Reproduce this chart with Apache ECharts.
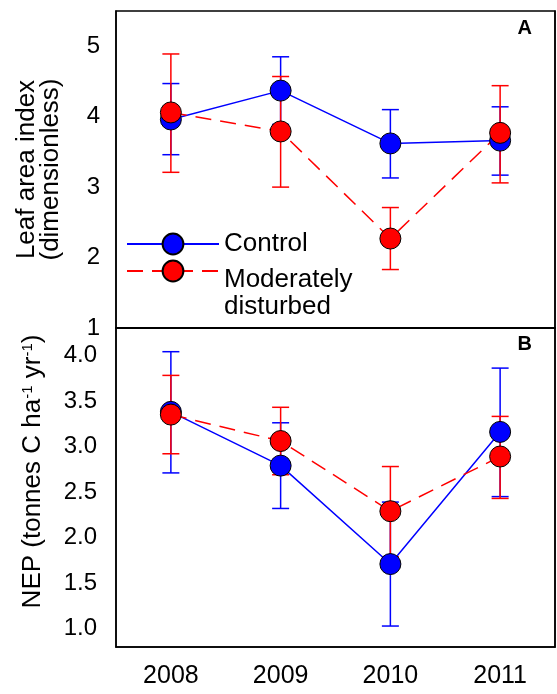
<!DOCTYPE html>
<html>
<head>
<meta charset="utf-8">
<script src="https://cdn.jsdelivr.net/npm/echarts@6/dist/echarts.min.js"></script>
<style>
  html, body { margin: 0; padding: 0; background: #fff; }
  #chart { width: 557px; height: 694px; }
</style>
</head>
<body>
<div id="chart"></div>
<script>
// years on the x axis
const years = ['2008', '2009', '2010', '2011'];

// panel A: leaf area index
const laiControl = [3.96, 4.37, 3.62, 3.66];
const laiControlLow = [3.46, 3.89, 3.13, 3.17];
const laiControlHigh = [4.47, 4.85, 4.10, 4.14];
const laiDisturbed = [4.06, 3.79, 2.27, 3.77];
const laiDisturbedLow = [3.21, 3.00, 1.83, 3.06];
const laiDisturbedHigh = [4.89, 4.57, 2.71, 4.44];

// panel B: NEP
const nepControl = [3.38, 2.79, 1.71, 3.16];
const nepControlLow = [2.71, 2.32, 1.03, 2.45];
const nepControlHigh = [4.04, 3.26, 2.39, 3.86];
const nepDisturbed = [3.35, 3.06, 2.29, 2.89];
const nepDisturbedLow = [2.92, 2.69, 1.79, 2.43];
const nepDisturbedHigh = [3.78, 3.43, 2.78, 3.33];

// tick values
const laiTicks = [1, 2, 3, 4, 5];
const nepTicks = [1.0, 1.5, 2.0, 2.5, 3.0, 3.5, 4.0];

const BLUE = '#0000ff';
const RED = '#ff0000';
const FONT = 'Liberation Sans, Arial, sans-serif';

const chart = echarts.init(document.getElementById('chart'));

// error bars drawn through the axes' own coordinate system
function errorBars(name, color, low, high, gridIdx) {
  return {
    name: name + ' error',
    type: 'custom',
    xAxisIndex: gridIdx === 0 ? 0 : 2,
    yAxisIndex: gridIdx === 0 ? 0 : 2,
    z: 1,
    silent: true,
    data: years.map((y, i) => [i, low[i], high[i]]),
    renderItem: function (params, api) {
      const lo = api.coord([api.value(0), api.value(1)]);
      const hi = api.coord([api.value(0), api.value(2)]);
      const half = 8.5;
      const st = { stroke: color, lineWidth: 1.5 };
      return {
        type: 'group',
        children: [
          { type: 'line', shape: { x1: lo[0], y1: lo[1], x2: hi[0], y2: hi[1] }, style: st },
          { type: 'line', shape: { x1: lo[0] - half, y1: lo[1], x2: lo[0] + half, y2: lo[1] }, style: st },
          { type: 'line', shape: { x1: hi[0] - half, y1: hi[1], x2: hi[0] + half, y2: hi[1] }, style: st }
        ]
      };
    }
  };
}

function lineSeries(name, color, values, dashed, gridIdx) {
  return {
    name: name,
    type: 'line',
    xAxisIndex: gridIdx === 0 ? 0 : 2,
    yAxisIndex: gridIdx === 0 ? 0 : 2,
    z: 3,
    data: values,
    symbol: 'circle',
    symbolSize: 21,
    lineStyle: { color: color, width: 1.5, type: dashed ? [16, 9] : 'solid' },
    itemStyle: { color: color, borderColor: '#000', borderWidth: 1 },
    emphasis: { disabled: true }
  };
}

const xBase = {
  type: 'category',
  data: years,
  boundaryGap: true,
  axisLine: { lineStyle: { color: '#000', width: 1.5 } },
  splitLine: { show: false }
};

const option = {
  animation: false,
  textStyle: { fontFamily: FONT },
  title: [
    { text: 'A', right: 25, top: 18, padding: 0,
      textStyle: { fontSize: 20, fontWeight: 'bold', color: '#000', fontFamily: FONT } },
    { text: 'B', right: 25, top: 334, padding: 0,
      textStyle: { fontSize: 20, fontWeight: 'bold', color: '#000', fontFamily: FONT } }
  ],
  legend: {
    orient: 'vertical',
    left: 126,
    top: 231,
    itemWidth: 92,
    itemHeight: 26,
    itemGap: -26,
    padding: 0,
    selectedMode: false,
    // second entry: the first line sits a little below its marker, as in the figure
    formatter: function (name) {
      if (name === 'Control') return name;
      return '{e| }\n{t|Moderately}\n{t|disturbed}';
    },
    textStyle: {
      fontSize: 26, color: '#000', fontFamily: FONT,
      rich: {
        e: { fontSize: 26, lineHeight: 45 },
        t: { fontSize: 26, lineHeight: 27, color: '#000', fontFamily: FONT }
      }
    },
    data: ['Control', 'Moderately disturbed']
  },
  grid: [
    { left: 116, right: 2, top: 11, height: 317, show: true, borderColor: '#000', borderWidth: 1.5 },
    { left: 116, right: 2, top: 328, height: 319, show: true, borderColor: '#000', borderWidth: 1.5 }
  ],
  xAxis: [
    Object.assign({}, xBase, {
      gridIndex: 0,
      axisTick: { alignWithLabel: true, length: 6, lineStyle: { color: '#000', width: 1.5 } },
      axisLabel: { show: false }
    }),
    Object.assign({}, xBase, {
      gridIndex: 1, position: 'top',
      axisTick: { alignWithLabel: true, inside: true, length: 6, lineStyle: { color: '#000', width: 1.5 } },
      axisLabel: { show: false }
    }),
    Object.assign({}, xBase, {
      gridIndex: 1,
      axisTick: { alignWithLabel: true, length: 5, lineStyle: { color: '#000', width: 1.5 } },
      axisLabel: { fontSize: 25, color: '#000', margin: 17, fontFamily: FONT }
    }),
    Object.assign({}, xBase, {
      gridIndex: 1,
      axisTick: { alignWithLabel: true, inside: true, length: 5, lineStyle: { color: '#000', width: 1.5 } },
      axisLabel: { show: false }
    })
  ],
  yAxis: [
    {
      type: 'value', gridIndex: 0, min: 1, max: 5.5,
      name: 'Leaf area index\n(dimensionless)',
      nameLocation: 'middle', nameGap: 53,
      nameTextStyle: { fontSize: 26, color: '#000', lineHeight: 24, fontFamily: FONT },
      axisLine: { show: true, lineStyle: { color: '#000', width: 1.5 } },
      axisTick: { length: 8, customValues: laiTicks, lineStyle: { color: '#000', width: 1.5 } },
      axisLabel: { fontSize: 24, color: '#000', margin: 16, customValues: laiTicks, fontFamily: FONT },
      splitLine: { show: false }
    },
    {
      type: 'value', gridIndex: 0, min: 1, max: 5.5, position: 'right',
      axisLine: { show: true, lineStyle: { color: '#000', width: 1.5 } },
      axisTick: { inside: true, length: 7, customValues: laiTicks, lineStyle: { color: '#000', width: 1.5 } },
      axisLabel: { show: false },
      splitLine: { show: false }
    },
    {
      type: 'value', gridIndex: 1, min: 0.8, max: 4.3,
      name: 'NEP (tonnes C ha{sup|-1} yr{sup|-1})',
      nameLocation: 'middle', nameGap: 70,
      nameTextStyle: {
        fontSize: 26, color: '#000', fontFamily: FONT, padding: [0, 0, 0, 32],
        rich: { sup: { fontSize: 15, verticalAlign: 'top', color: '#000', fontFamily: FONT, padding: [0, 0, 11, 0] } }
      },
      axisLine: { show: true, lineStyle: { color: '#000', width: 1.5 } },
      axisTick: { length: 8, customValues: nepTicks, lineStyle: { color: '#000', width: 1.5 } },
      axisLabel: {
        fontSize: 24, color: '#000', margin: 19, customValues: nepTicks, fontFamily: FONT,
        formatter: function (v) { return v.toFixed(1); }
      },
      splitLine: { show: false }
    },
    {
      type: 'value', gridIndex: 1, min: 0.8, max: 4.3, position: 'right',
      axisLine: { show: true, lineStyle: { color: '#000', width: 1.5 } },
      axisTick: { inside: true, length: 7, customValues: nepTicks, lineStyle: { color: '#000', width: 1.5 } },
      axisLabel: { show: false },
      splitLine: { show: false }
    }
  ],
  series: [
    lineSeries('Control', BLUE, laiControl, false, 0),
    lineSeries('Moderately disturbed', RED, laiDisturbed, true, 0),
    lineSeries('Control', BLUE, nepControl, false, 1),
    lineSeries('Moderately disturbed', RED, nepDisturbed, true, 1),
    errorBars('Control', BLUE, laiControlLow, laiControlHigh, 0),
    errorBars('Moderately disturbed', RED, laiDisturbedLow, laiDisturbedHigh, 0),
    errorBars('Control', BLUE, nepControlLow, nepControlHigh, 1),
    errorBars('Moderately disturbed', RED, nepDisturbedLow, nepDisturbedHigh, 1)
  ]
};

chart.setOption(option);
</script>
</body>
</html>
